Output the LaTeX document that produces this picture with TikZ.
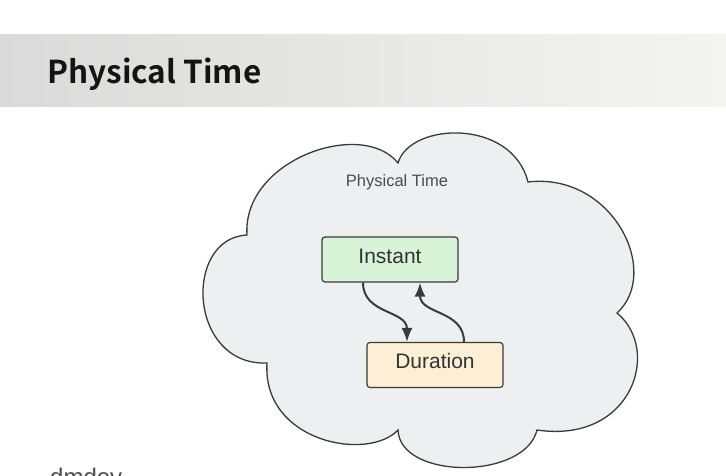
\documentclass[tikz,border=0pt]{standalone}
\usepackage{fontspec}
\setmainfont{Liberation Sans}
\newfontfamily\titlefont{Noto Sans CJK SC}[BoldFont={* Bold}]
\usetikzlibrary{arrows.meta}
\definecolor{cloudfill}{HTML}{EEEFF1}
\definecolor{linegray}{HTML}{3A3A3A}
\definecolor{instfill}{HTML}{D8F3D6}
\definecolor{durfill}{HTML}{FCEFD6}
\definecolor{bandL}{HTML}{DADADA}
\definecolor{bandR}{HTML}{F4F4F0}
\tikzset{
  boxnode/.style={draw=linegray, line width=1.2pt, rounded corners=3pt,
    minimum width=136pt, minimum height=45pt, inner sep=0pt},
  boxtext/.style={font=\fontsize{21}{24}\selectfont, text=black!80, inner sep=0pt},
  arr/.style={draw=linegray, line width=2pt,
    -{Latex[length=14pt,width=11pt]}},
}
\begin{document}
\begin{tikzpicture}[x=1pt,y=-1pt]
\useasboundingbox (0,0) rectangle (726,475);
\clip (0,0) rectangle (726,475);
\fill[white] (0,0) rectangle (726,475);
\shade[left color=bandL, right color=bandR] (0,34) rectangle (726,106);
\node[anchor=base west, font=\titlefont\bfseries\fontsize{31.5}{36}\selectfont, text=black!92, inner sep=0pt] (title) at (47,83) {Physical Time};
% cloud
\draw[fill=cloudfill, draw=linegray, line width=1.3pt]
  (247,235) .. controls (242,160) and (362,118) .. (398,163)
  .. controls (410,122) and (512,118) .. (528,182)
  .. controls (612,172) and (662,272) .. (617,313)
  .. controls (662,350) and (632,444) .. (537,430)
  .. controls (525,480) and (400,480) .. (398,430)
  .. controls (368,462) and (262,442) .. (267,363)
  .. controls (188,366) and (183,238) .. (247,235) -- cycle;
\node[font=\fontsize{16.5}{20}\selectfont, text=black!70] (cloudlabel) at (397,182) {Physical Time};
\node[boxnode, fill=instfill] (inst) at (390,259.5) {};
\node[boxtext] (insttext) at (390,256) {Instant};
\node[boxnode, fill=durfill] (dur) at (435,365) {};
\node[boxtext] (durtext) at (435,361) {Duration};
\draw[arr] ([xshift=-27pt]inst.south) .. controls +(0,32) and +(0,-32) .. ([xshift=-28pt]dur.north);
\draw[arr] ([xshift=29pt]dur.north) .. controls +(0,-32) and +(0,32) .. ([xshift=30pt]inst.south);
\node[anchor=base west, font=\fontsize{24}{28}\selectfont, text=black!70, inner sep=0pt] (logo) at (50,485) {dmdev};
\end{tikzpicture}
\end{document}
